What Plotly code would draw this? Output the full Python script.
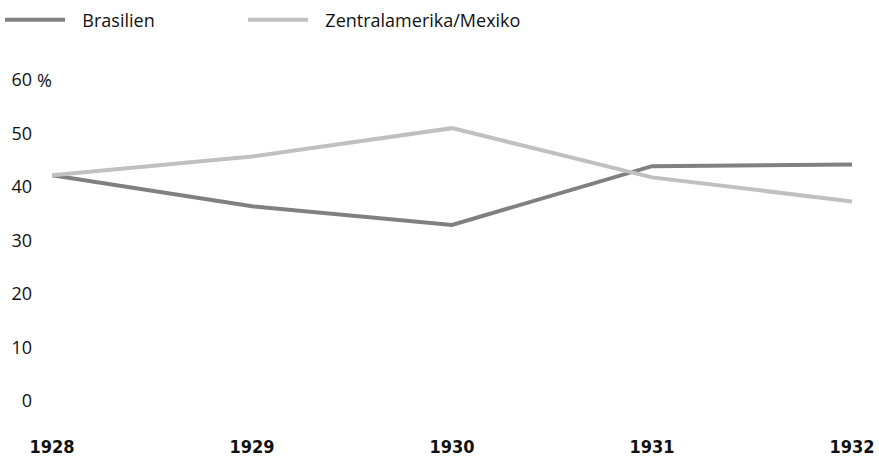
import plotly.graph_objects as go

years = [1928, 1929, 1930, 1931, 1932]
brasilien = [42.2, 36.4, 32.9, 43.9, 44.2]
zentralamerika = [42.2, 45.7, 51.0, 41.8, 37.3]
y_ticks = [0, 10, 20, 30, 40, 50, 60]

W, H = 879, 459

pad = "\u00a0\u00a0\u2009"
fig = go.Figure()
fig.add_trace(go.Scatter(x=years, y=brasilien, mode="lines", name=pad + "Brasilien",
                         line=dict(color="#808080", width=4), legend="legend"))
fig.add_trace(go.Scatter(x=years, y=zentralamerika, mode="lines", name=pad + "Zentralamerika/Mexiko",
                         line=dict(color="#c0c0c0", width=4), legend="legend2"))

# percent sign next to the top tick label
fig.add_annotation(x=0, xref="x domain", y=60, yref="y", text="%", showarrow=False,
                   xanchor="right", xshift=2, font=dict(size=18, color="#111"))

leg = dict(orientation="h", xref="container", yref="container", xanchor="left",
           y=1 - 20 / H, yanchor="middle", itemwidth=60, font=dict(size=18))

fig.update_layout(
    width=W, height=H,
    margin=dict(l=52, r=27, t=80, b=58, autoexpand=False),
    paper_bgcolor="white", plot_bgcolor="white",
    font=dict(family="Open Sans", size=18, color="#111"),
    showlegend=True,
    legend=dict(leg, x=-2 / W),
    legend2=dict(leg, x=243 / W),
    xaxis=dict(range=[1928, 1932], tickvals=years, showgrid=False, zeroline=False,
               showline=False, ticks="", ticklabelstandoff=33, automargin=False,
               tickfont=dict(family="DejaVu Sans Condensed, Roboto", size=18,
                             color="#111", weight="bold")),
    yaxis=dict(range=[0, 60], tickvals=y_ticks, showgrid=False, zeroline=False,
               showline=False, ticks="", ticklabelstandoff=19, automargin=False),
)

fig.write_html("out.html", config={"displayModeBar": False},
               post_script="document.body.style.margin='0';")
